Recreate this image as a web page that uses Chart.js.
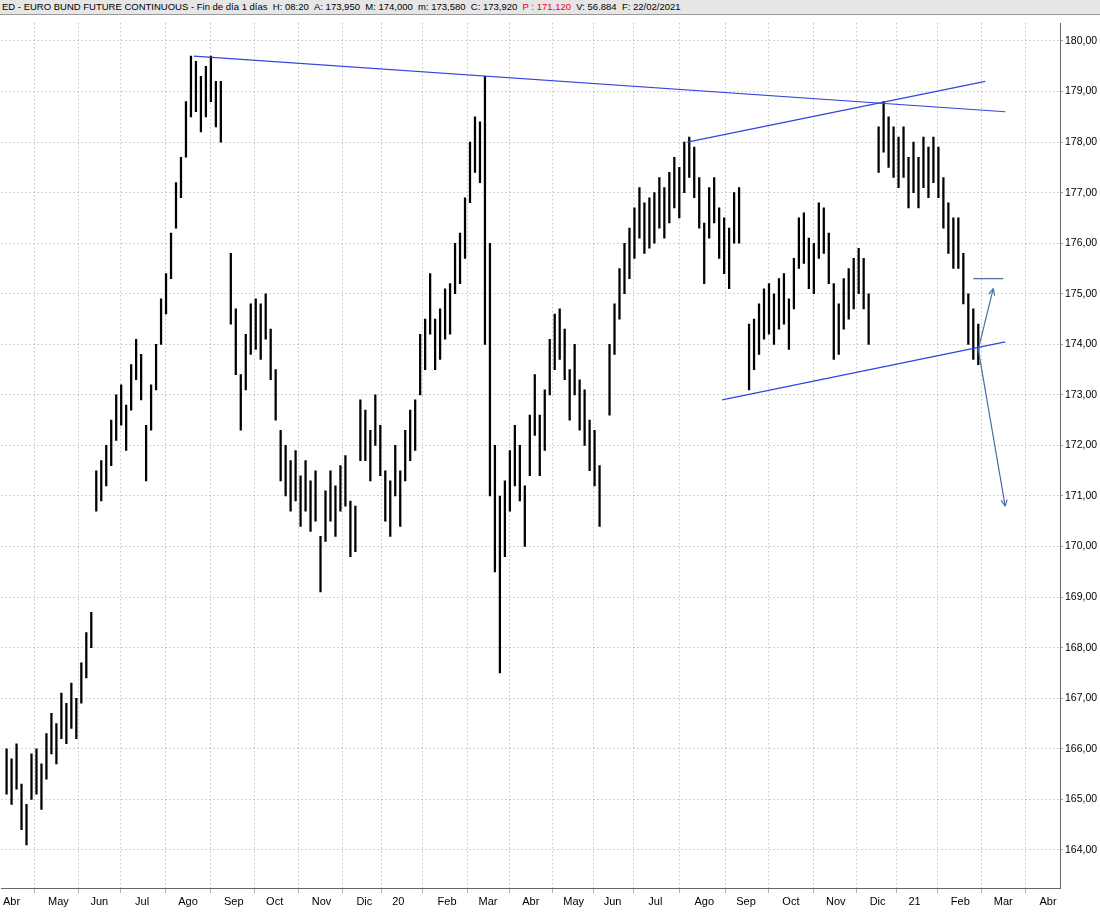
<!DOCTYPE html>
<html><head><meta charset="utf-8">
<script src="https://cdn.jsdelivr.net/npm/chart.js@4"></script>
<style>
body{margin:0;background:#fff;font-family:"Liberation Sans",Arial,sans-serif}
#bar{height:14px;background:#e6e6e6;border-bottom:1px solid #999;font-size:9.5px;line-height:14px;padding-left:2px;white-space:nowrap}
#wrap{width:1100px;height:897px}
</style></head><body>
<div id="bar">ED - EURO BUND FUTURE CONTINUOUS - Fin de día 1 días &nbsp;H: 08:20 &nbsp;A: 173,950 &nbsp;M: 174,000 &nbsp;m: 173,580 &nbsp;C: 173,920 &nbsp;<span style="color:#e00">P : 171,120</span> &nbsp;V: 56.884 &nbsp;F: 22/02/2021</div>
<div id="wrap"><canvas id="c"></canvas></div>
<script>
// x = half-week index from start of Apr 2019
const monthLabels = ['Abr','May','Jun','Jul','Ago','Sep','Oct','Nov','Dic','20','Feb','Mar','Abr','May','Jun','Jul','Ago','Sep','Oct','Nov','Dic','21','Feb','Mar','Abr'];
const monthPos = [2,11.4,19.6,28.2,37.4,46.6,54.8,64.2,72.8,79.6,89.4,97.6,106.2,114.8,122.6,131.2,141,149.4,158.4,167.4,175.8,183.2,192.4,201,210];
// [low, high] per half-week, null = contract gap
const ranges = [
 null,[165.1,166.0],[164.9,165.8],[165.2,166.1],[164.4,165.3],[164.1,164.9],[165.0,165.9],[165.1,166.0],[164.8,165.7],[165.4,166.3],
 [165.9,166.7],[165.7,166.5],[166.2,167.1],[166.1,166.9],[166.4,167.3],[166.2,167.0],[166.9,167.7],[167.4,168.3],[168.0,168.7],[170.7,171.5],
 [170.9,171.7],[171.2,172.0],[171.6,172.5],[172.1,173.0],[172.4,173.2],[171.9,172.8],[172.7,173.6],[173.3,174.1],[172.9,173.8],[171.3,172.4],
 [172.3,173.2],[173.1,174.0],[174.0,174.9],[174.6,175.4],[175.3,176.2],[176.3,177.2],[176.9,177.7],[177.7,178.8],[178.5,179.7],[178.6,179.6],
 [178.2,179.3],[178.5,179.5],[178.8,179.7],[178.3,179.2],[178.0,179.2],null,[174.4,175.8],[173.4,174.7],[172.3,173.4],[173.1,174.2],
 [173.8,174.8],[173.9,174.9],[173.7,174.8],[174.1,175.0],[173.3,174.3],[172.5,173.5],[171.3,172.3],[171.0,172.0],[170.7,171.7],[170.9,171.9],
 [170.4,171.4],[170.7,171.7],[170.3,171.3],[170.5,171.5],[169.1,170.2],[170.1,171.1],[170.5,171.5],[170.2,171.2],[170.7,171.6],[170.8,171.8],
 [169.8,170.9],[169.9,170.8],[171.7,172.9],[171.7,172.7],[171.3,172.3],[172.0,173.0],[171.4,172.4],[170.5,171.5],[170.2,171.3],[171.0,172.0],
 [170.4,171.5],[171.3,172.3],[171.7,172.7],[171.9,172.9],[173.0,174.2],[173.5,174.5],[174.2,175.4],[173.5,174.5],[173.7,174.7],[174.1,175.1],
 [174.2,175.2],[175.0,176.0],[175.2,176.2],[175.7,176.9],[176.8,178.0],[177.4,178.5],[177.2,178.4],[174.0,179.3],[171.0,176.0],[169.5,172.0],
 [167.5,171.0],[169.8,171.3],[170.7,171.9],[171.2,172.4],[170.9,172.0],[170.0,171.2],[171.4,172.6],[172.2,173.4],[171.4,172.6],[171.9,173.1],
 [173.0,174.1],[173.5,174.6],[173.7,174.7],[173.3,174.3],[172.5,173.5],[173.0,174.0],[172.3,173.3],[172.0,173.1],[171.5,172.5],[171.2,172.3],
 [170.4,171.6],null,[172.6,174.0],[173.8,174.8],[174.5,175.5],[175.0,176.0],[175.3,176.3],[175.7,176.7],[176.1,177.1],[175.8,176.8],
 [175.9,176.9],[176.0,177.0],[176.3,177.3],[176.1,177.1],[176.4,177.4],[176.7,177.7],[176.5,177.5],[177.0,178.0],[177.3,178.1],[176.9,177.9],
 [176.3,177.3],[175.2,176.4],[176.1,177.1],[176.4,177.3],[175.7,176.7],[175.4,176.5],[175.1,176.3],[176.0,177.0],[176.0,177.1],null,
 [173.1,174.4],[173.5,174.5],[173.8,174.8],[174.1,175.1],[174.2,175.2],[174.0,175.0],[174.3,175.3],[174.4,175.4],[173.9,174.9],[174.7,175.7],
 [175.5,176.5],[175.6,176.6],[175.1,176.1],[175.0,176.0],[175.7,176.8],[175.8,176.7],[175.2,176.2],[173.7,175.2],[173.8,174.8],[174.3,175.3],
 [174.5,175.5],[174.7,175.7],[175.0,175.9],[174.7,175.7],[174.0,175.0],null,[177.4,178.3],[177.8,178.8],[177.5,178.5],[177.3,178.3],
 [177.1,178.1],[177.3,178.3],[176.7,177.7],[177.0,178.0],[176.7,177.7],[177.1,178.1],[176.9,177.9],[177.2,178.1],[176.9,177.9],[176.3,177.3],
 [175.8,176.8],[175.5,176.5],[175.5,176.5],[174.8,175.8],[174.0,175.0],[173.7,174.7],[173.6,174.4]
];
// trend lines: [x1, y1, x2, y2]
const trendLines = [
 [38.6,179.7,201.4,178.6],
 [137.6,178.0,197.4,179.2],
 [144.6,172.9,201.4,174.05]
];
// projection arrows (steel blue): [x1, y1, x2, y2]
const arrows = [
 [195,175.3,201,175.3],
 [196,173.9,199,175.1],
 [196,173.9,201.4,170.8]
];

const barData = ranges.map((r, i) => ({x: i, y: r}));
const mkLine = (t, col) => ({
  type: 'line', data: [{x: t[0], y: t[1]}, {x: t[2], y: t[3]}],
  borderColor: col, borderWidth: 1.2, pointRadius: 0, order: 0
});

const arrowHeads = {id: 'arrowHeads', afterDatasetsDraw(c) {
  const ctx = c.ctx, xs = c.scales.x, ys = c.scales.y;
  ctx.save();
  ctx.strokeStyle = '#4a6fa5'; ctx.lineWidth = 1.2;
  arrows.slice(1).forEach(a => {
    const x1 = xs.getPixelForValue(a[0]), y1 = ys.getPixelForValue(a[1]);
    const x2 = xs.getPixelForValue(a[2]), y2 = ys.getPixelForValue(a[3]);
    const ang = Math.atan2(y2 - y1, x2 - x1);
    ctx.beginPath();
    [-0.45, 0.45].forEach(d => {
      ctx.moveTo(x2, y2);
      ctx.lineTo(x2 - 7 * Math.cos(ang + d), y2 - 7 * Math.sin(ang + d));
    });
    ctx.stroke();
  });
  ctx.restore();
}};

new Chart(document.getElementById('c'), {
  data: {datasets: [
    {type: 'bar', data: barData, backgroundColor: '#000', barThickness: 1.6, grouped: false, order: 1},
    ...trendLines.map(t => mkLine(t, '#3344e0')),
    ...arrows.map(t => mkLine(t, '#4a6fa5'))
  ]},
  options: {
    responsive: true, maintainAspectRatio: false, animation: false,
    plugins: {legend: {display: false}, tooltip: {enabled: false}},
    scales: {
      x: {type: 'linear', min: 0, max: 212.4, offset: false,
        afterBuildTicks: ax => { ax.ticks = monthPos.map(v => ({value: v})); },
        ticks: {color: '#000', font: {size: 11, family: 'Liberation Sans'}, maxRotation: 0, autoSkip: false,
          callback: (v, i) => monthLabels[i]},
        grid: {color: '#aaa', tickLength: 4},
        border: {display: true, color: '#666', dash: [1, 3]}},
      y: {position: 'right', min: 163.23, max: 180.35,
        afterBuildTicks: ax => { const t = []; for (let v = 164; v <= 180; v++) t.push({value: v}); ax.ticks = t; },
        ticks: {color: '#000', font: {size: 10.5, family: 'Liberation Sans'}, padding: 2,
          callback: v => v.toFixed(2).replace('.', ',')},
        grid: {color: '#aaa', tickLength: 3},
        border: {display: true, color: '#666', dash: [1, 3]}, afterFit: ax => { ax.width = 40; }}
    }
  },
  plugins: [arrowHeads]
});
</script>
</body></html>
